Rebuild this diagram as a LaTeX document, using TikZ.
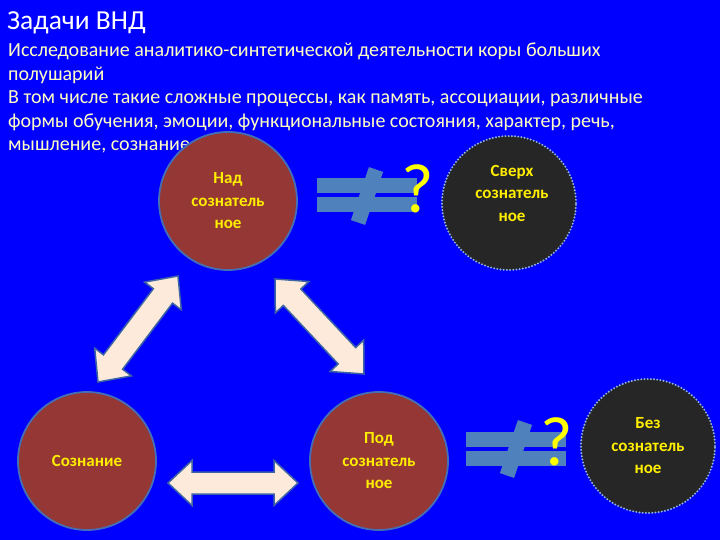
\documentclass[tikz,border=0pt]{standalone}
\usepackage{fontspec}
\setmainfont{Carlito}
\usetikzlibrary{calc}
\definecolor{bgblue}{RGB}{0,0,255}
\definecolor{brownc}{RGB}{149,55,53}
\definecolor{edgeblue}{RGB}{70,110,180}
\definecolor{darkc}{RGB}{38,38,38}
\definecolor{dotblue}{RGB}{141,179,226}
\definecolor{linenc}{RGB}{253,234,218}
\definecolor{arrowedge}{RGB}{60,100,165}
\definecolor{neqblue}{RGB}{79,129,189}
\definecolor{paleyellow}{RGB}{255,255,195}
\definecolor{cyellow}{RGB}{255,238,0}
\definecolor{qyellow}{RGB}{255,255,0}
\newcommand{\dblarrow}[5]{%
  \draw[barrow] (#1)
    -- ($(#1)!#3!(#2)!#5!90:(#2)$) -- ($(#1)!#3!(#2)!#4!90:(#2)$)
    -- ($(#2)!#3!(#1)!#4!-90:(#1)$) -- ($(#2)!#3!(#1)!#5!-90:(#1)$)
    -- (#2)
    -- ($(#2)!#3!(#1)!#5!90:(#1)$) -- ($(#2)!#3!(#1)!#4!90:(#1)$)
    -- ($(#1)!#3!(#2)!#4!-90:(#2)$) -- ($(#1)!#3!(#2)!#5!-90:(#2)$)
    -- cycle;}
\tikzset{
  circ/.style={circle, fill=brownc, draw=edgeblue, line width=1.8pt, minimum size=138pt, inner sep=0pt},
  darkcirc/.style={circle, fill=darkc, draw=dotblue, line width=2.2pt, dash pattern=on 0pt off 3.2pt, line cap=round, minimum size=134pt, inner sep=0pt},
  ctext/.style={text=cyellow, font=\fontsize{17}{22.5}\selectfont\bfseries, align=center},
  bodyt/.style={anchor=base west, inner sep=0pt, text=paleyellow, font=\fontsize{20}{24}\selectfont},
  titlet/.style={anchor=base west, inner sep=0pt, text=white, font=\fontsize{27.5}{32}\selectfont},
  qmark/.style={inner sep=0pt, text=qyellow, font=\fontsize{70}{70}\selectfont},
  barrow/.style={fill=linenc, draw=arrowedge, line width=1.5pt, line join=miter},
  neqshape/.pic={
    \fill[neqblue] (-50,-17) rectangle (50,-2);
    \fill[neqblue] (-50,2) rectangle (50,17);
    \draw[neqblue, line width=15pt] (9,-26) -- (-9,27);
  }
}
\begin{document}
\begin{tikzpicture}[x=1pt,y=-1pt]
\useasboundingbox (0,0) rectangle (720,540);
\fill[bgblue] (0,0) rectangle (720,540);
% texts
\node[titlet] (title) at (7,30) {Задачи ВНД};
\node[bodyt] (l1) at (8,57) {Исследование аналитико-синтетической деятельности коры больших};
\node[bodyt] (l2) at (8,80.5) {полушарий};
\node[bodyt] (l3) at (8,104) {В том числе такие сложные процессы, как память, ассоциации, различные};
\node[bodyt] (l4) at (8,127.5) {формы обучения, эмоции, функциональные состояния, характер, речь,};
\node[bodyt] (l5) at (8,151) {мышление, сознание};
% arrows
\coordinate (la1) at (98,382);
\coordinate (la2) at (178,276);
\coordinate (ra1) at (275,279);
\coordinate (ra2) at (364,374);
\coordinate (ha1) at (168,483);
\coordinate (ha2) at (298,483);
\dblarrow{la1}{la2}{25pt}{12pt}{23pt}
\dblarrow{ra1}{ra2}{25pt}{12pt}{23pt}
\dblarrow{ha1}{ha2}{24pt}{11pt}{22.5pt}
% not-equal signs
\pic (ne1) at (367,195.5) {neqshape};
\pic (ne2) at (516,448.5) {neqshape};
\node[qmark] (q1) at (418,189) {?};
\node[qmark] (q2) at (557,442) {?};
% circles
\node[circ, ctext] (nad) at (228,201) {Над\\сознатель\\ное};
\node[darkcirc] (sverkh) at (509,203) {};
\node[ctext] (sverkht) at (512,193) {Сверх\\сознатель\\ное};
\node[circ, ctext] (soz) at (87,461) {Сознание};
\node[circ, ctext] (pod) at (379,461) {Под\\сознатель\\ное};
\node[darkcirc, ctext] (bez) at (648,446) {Без\\сознатель\\ное};
\end{tikzpicture}
\end{document}
